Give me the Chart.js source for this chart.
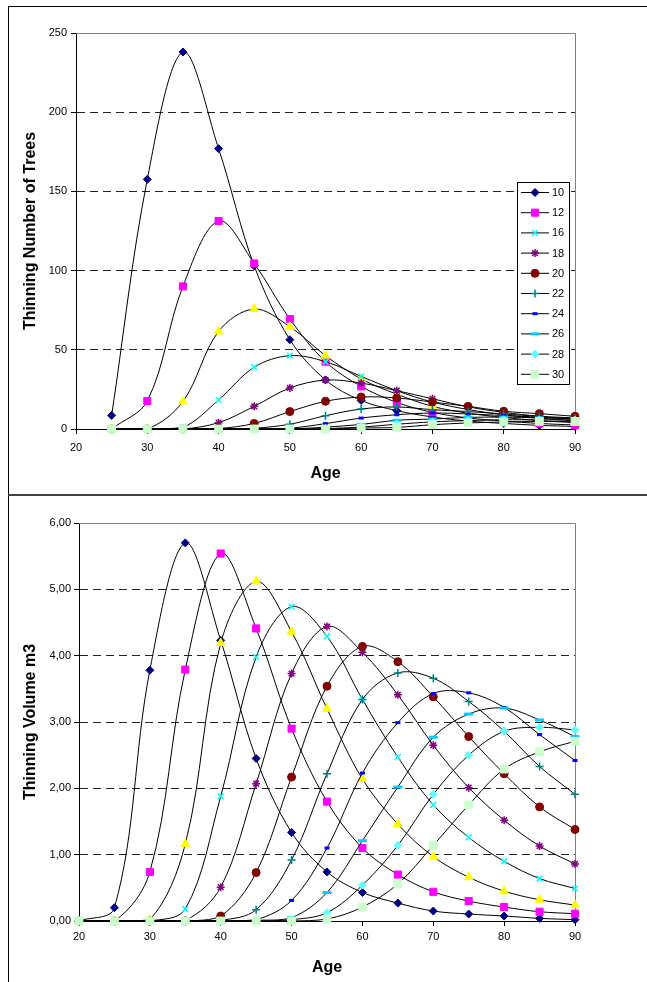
<!DOCTYPE html>
<html><head><meta charset="utf-8">
<script src="https://cdn.jsdelivr.net/npm/chart.js@4"></script>
<style>
html,body{margin:0;padding:0;background:#fff;width:647px;height:982px;overflow:hidden;}
#w1{position:absolute;left:0;top:0;width:647px;height:495px;}
#w2{position:absolute;left:0;top:495px;width:647px;height:487px;}
.frame{position:absolute;background:#000;z-index:5;}
</style></head><body>
<div id="w1"><canvas id="c1"></canvas></div>
<div id="w2"><canvas id="c2"></canvas></div>
<div class="frame" style="left:8px;top:6px;width:1px;height:976px"></div>
<div class="frame" style="left:8px;top:6px;width:639px;height:1px"></div>
<div class="frame" style="left:8px;top:494px;width:639px;height:2px;background:#404040"></div>
<script>
// ---- data ----
const seriesNames = ['10','12','14','16','18','20','22','24','26','28','30'];
const legendNames = ['10','12','16','18','20','22','24','26','28','30'];
const agesTop = [25,30,35,40,45,50,55,60,65,70,75,80,85,90];
const agesBottom = [20,25,30,35,40,45,50,55,60,65,70,75,80,85,90];
const xTickLabels = ['20','30','40','50','60','70','80','90'];
const topYTickLabels = ['0','50','100','150','200','250'];
const bottomYTickLabels = ['0,00','1,00','2,00','3,00','4,00','5,00','6,00'];

// Thinning number of trees (ages 25..90)
const trees10 = [8.6,157.6,238,177,103,56.4,31,18,11.6,7.6,5,3.5,2.3,1.6];
const trees12 = [0,17.7,90,131.3,104.5,69.4,42.5,26.9,16.8,10.5,7,5,3.5,2.5];
const trees14 = [0,0,17.4,61.6,75.7,64.6,46.3,31.6,22,14.3,10,7.3,5.3,4];
const trees16 = [0,0,1,18.3,39,46.3,42.5,33.2,24.2,17,12.3,9,6.8,5.2];
const trees18 = [0,0,0,4,14.3,25.9,30.9,29,24.2,19.1,14,10.5,8,6];
const trees20 = [0,0,0,0.3,3.5,11,17.5,20.2,19.6,17,14.3,11.2,9.7,8];
const trees22 = [0,0,0,0,0.5,3,8.4,12.6,13.9,12.2,11,9.5,8,7];
const trees24 = [0,0,0,0,0,0.5,3.4,6.9,9,10.1,9.5,8.5,7.5,6.5];
const trees26 = [0,0,0,0,0,0,1.2,2.9,5.5,6.3,7.3,7.5,7,6.5];
const trees28 = [0,0,0,0,0,0,0.3,1.2,3,4.5,5.3,5.8,5.8,5.7];
const trees30 = [0,0,0,0,0,0,0,0.6,1,2.7,3.8,4.4,4.8,4.8];

// Thinning volume m3 (ages 20..90)
const vol10 = [0,0.20,3.78,5.70,4.23,2.45,1.335,0.74,0.43,0.27,0.15,0.105,0.075,0.04,0.02];
const vol12 = [0,0,0.74,3.79,5.54,4.41,2.90,1.80,1.10,0.70,0.44,0.30,0.21,0.14,0.11];
const vol14 = [0,0,0.02,1.16,4.19,5.12,4.36,3.20,2.14,1.46,0.97,0.66,0.45,0.32,0.24];
const vol16 = [0,0,0,0.18,1.88,3.98,4.74,4.29,3.34,2.47,1.75,1.26,0.90,0.64,0.49];
const vol18 = [0,0,0,0.01,0.51,2.07,3.73,4.44,4.05,3.41,2.65,2.01,1.52,1.13,0.86];
const vol20 = [0,0,0,0,0.075,0.73,2.17,3.54,4.14,3.91,3.38,2.78,2.22,1.72,1.38];
const vol22 = [0,0,0,0,0.01,0.17,0.92,2.22,3.34,3.74,3.66,3.31,2.86,2.33,1.91];
const vol24 = [0,0,0,0,0,0.02,0.31,1.10,2.23,2.99,3.43,3.44,3.22,2.81,2.42];
const vol26 = [0,0,0,0,0,0.01,0.05,0.43,1.21,2.02,2.77,3.12,3.21,3.03,2.78];
const vol28 = [0,0,0,0,0,0,0.02,0.125,0.54,1.14,1.91,2.50,2.86,2.92,2.88];
const vol30 = [0,0,0,0,0,0,0,0.03,0.21,0.56,1.14,1.75,2.29,2.55,2.71];

const treesSeries = [trees10,trees12,trees14,trees16,trees18,trees20,trees22,trees24,trees26,trees28,trees30];
const volSeries = [vol10,vol12,vol14,vol16,vol18,vol20,vol22,vol24,vol26,vol28,vol30];

// ---- styles ----
const markerStyles = [
  {c:'#000080', s:'rectRot', r:4, w:1},
  {c:'#FF00FF', s:'rect', r:5, w:1},
  {c:'#FFFF00', s:'triangle', r:5, w:1},
  {c:'#00FFFF', s:'crossRot', r:4, w:1.5},
  {c:'#800080', s:'star', r:4, w:1.5},
  {c:'#800000', s:'circle', r:4, w:1},
  {c:'#008080', s:'cross', r:4, w:1.5},
  {c:'#0000FF', s:'line', r:2.5, w:3},
  {c:'#00CCFF', s:'line', r:4.5, w:3},
  {c:'#66FFFF', s:'rectRot', r:4, w:1},
  {c:'#CCFFCC', s:'rect', r:5.5, w:1}
];

const FONT = "'Liberation Sans', Arial, sans-serif";
Chart.defaults.font.family = FONT;
Chart.defaults.color = '#000';

function makeDatasets(ages, series) {
  return series.map((vals, i) => {
    const m = markerStyles[i];
    return {
      label: seriesNames[i],
      data: vals.map((v, j) => ({x: ages[j], y: v})),
      borderColor: '#000',
      borderWidth: 1,
      pointStyle: m.s,
      pointRadius: m.r,
      pointHoverRadius: m.r,
      pointBackgroundColor: m.c,
      pointBorderColor: m.c,
      pointBorderWidth: m.w,
      tension: 0.35,
      fill: false,
      order: -i,
      clip: 5
    };
  });
}

const plotBorder = {
  id: 'plotBorder',
  beforeDatasetsDraw(chart) {
    const {ctx, chartArea: a} = chart;
    ctx.save();
    ctx.strokeStyle = '#808080';
    ctx.lineWidth = 1;
    ctx.beginPath();
    ctx.moveTo(a.left, a.top + 0.5);
    ctx.lineTo(a.right + 0.5, a.top + 0.5);
    ctx.lineTo(a.right + 0.5, a.bottom);
    ctx.stroke();
    ctx.restore();
  }
};

const boxLegend = {
  id: 'boxLegend',
  afterDraw(chart, args, opts) {
    if (!opts || !opts.show) return;
    const ctx = chart.ctx;
    const {x, y, w, h, rowH, firstRow} = opts;
    ctx.save();
    ctx.fillStyle = '#fff';
    ctx.fillRect(x, y, w, h);
    ctx.strokeStyle = '#000';
    ctx.lineWidth = 1;
    ctx.strokeRect(x + 0.5, y + 0.5, w, h);
    let row = 0;
    chart.data.datasets.forEach((ds, i) => {
      if (!legendNames.includes(ds.label)) return;
      const cy = y + firstRow + row * rowH;
      ctx.strokeStyle = '#000';
      ctx.lineWidth = 1;
      ctx.beginPath();
      ctx.moveTo(x + 4, cy + 0.5);
      ctx.lineTo(x + 32, cy + 0.5);
      ctx.stroke();
      const m = markerStyles[i];
      ctx.fillStyle = m.c;
      ctx.strokeStyle = m.c;
      ctx.lineWidth = m.w;
      Chart.helpers.drawPoint(ctx, {pointStyle: m.s, radius: m.r, rotation: 0, borderWidth: m.w}, x + 18, cy + 0.5);
      ctx.fillStyle = '#000';
      ctx.font = '11px ' + FONT;
      ctx.textBaseline = 'middle';
      ctx.textAlign = 'left';
      ctx.fillText(ds.label, x + 35, cy + 1);
      row++;
    });
    ctx.restore();
  }
};

function makeOptions(cfg) {
  return {
    responsive: true,
    maintainAspectRatio: false,
    animation: false,
    devicePixelRatio: 1,
    layout: {padding: {left: 0, right: 72, top: cfg.padTop, bottom: 0}},
    plugins: {
      legend: {display: false},
      tooltip: {enabled: false},
      boxLegend: cfg.legend
    },
    scales: {
      x: {
        type: 'linear', min: 20, max: 90,
        ticks: {stepSize: 10, padding: cfg.xTickPad, font: {size: 11}, color: '#000',
                callback: (v, i) => xTickLabels[i]},
        grid: {display: true, drawOnChartArea: false, drawTicks: true, tickLength: 5, tickColor: '#000', tickWidth: 1},
        border: {display: true, color: '#000', width: 1},
        title: {display: true, text: 'Age', font: {size: 16, weight: 'bold'}, color: '#000',
                padding: {top: 0, bottom: cfg.ageBottomPad}},
        afterFit: s => { s.height = cfg.xHeight; }
      },
      y: {
        type: 'linear', min: 0, max: cfg.yMax,
        ticks: {stepSize: cfg.yStep, padding: cfg.yTickPad, font: {size: 11}, color: '#000',
                callback: (v, i) => cfg.yLabels[i]},
        grid: {
          display: true, drawOnChartArea: true, drawTicks: true, tickLength: 5, tickColor: '#000', tickWidth: 1,
          color: ctx => (ctx.tick && (ctx.tick.value === cfg.yMax || ctx.tick.value === 0)) ? 'rgba(0,0,0,0)' : '#222',
          lineWidth: 1
        },
        border: {display: true, color: '#000', width: 1, dash: [8, 5]},
        title: {display: true, text: cfg.yTitle, font: {size: 16, weight: 'bold'}, color: '#000',
                padding: {top: cfg.yTitlePad, bottom: 0}},
        afterFit: s => { s.width = cfg.yWidth; }
      }
    }
  };
}

new Chart(document.getElementById('c1'), {
  type: 'line',
  data: {datasets: makeDatasets(agesTop, treesSeries)},
  options: makeOptions({
    padTop: 33, xTickPad: 7, xHeight: 66, ageBottomPad: 12,
    yMax: 250, yStep: 50, yTickPad: 4, yLabels: topYTickLabels,
    yTitle: 'Thinning Number of Trees', yTitlePad: 21, yWidth: 76,
    legend: {show: true, x: 517, y: 182, w: 52, h: 202, rowH: 20.2, firstRow: 10}
  }),
  plugins: [plotBorder, boxLegend]
});

new Chart(document.getElementById('c2'), {
  type: 'line',
  data: {datasets: makeDatasets(agesBottom, volSeries)},
  options: makeOptions({
    padTop: 28, xTickPad: 4, xHeight: 61, ageBottomPad: 5,
    yMax: 6, yStep: 1, yTickPad: 3, yLabels: bottomYTickLabels,
    yTitle: 'Thinning Volume m3', yTitlePad: 21, yWidth: 79,
    legend: {show: false}
  }),
  plugins: [plotBorder, boxLegend]
});
</script>
</body></html>
